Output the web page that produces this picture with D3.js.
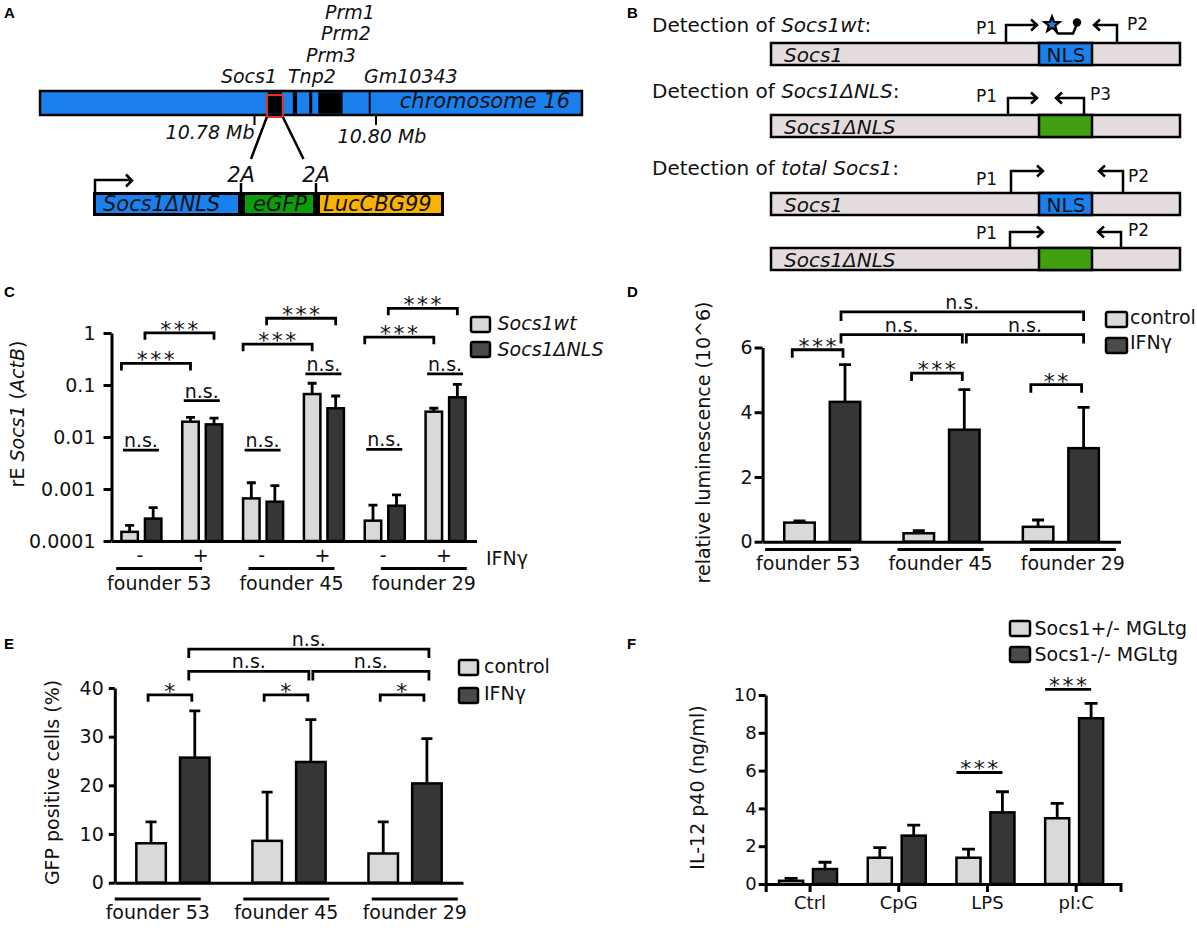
<!DOCTYPE html>
<meta charset="utf-8">
<style type="text/css">
body {
  margin: 0;
  background: #fff;
}
svg {
  font-family: "DejaVu Sans", Verdana, sans-serif;
}
text {
  fill: #111;
}
.axis path,
.axis line {
  stroke: #000;
  stroke-width: 3px;
}
.axis text {
  font-family: "DejaVu Sans", Verdana, sans-serif;
  font-size: 19px;
  fill: #111;
}
.bar {
  stroke: #000;
  stroke-width: 2.5px;
}
.line {
  stroke: #000;
  stroke-width: 2.8px;
  fill: none;
}
.lab {
  font-size: 19px;
}
.it {
  font-style: italic;
}
.star {
  font-size: 22px;
  letter-spacing: 2.5px;
}
.panel {
  font-family: "Liberation Sans", Arial, sans-serif;
  font-weight: bold;
  font-size: 15px;
  fill: #000;
}
</style>
<body>
<script src="https://cdn.jsdelivr.net/npm/d3@7"></script>
<script>
// ---------- data ----------
// A: chromosome 16 window (Mb) and the black gene blocks
var chrWindow = [10.7447, 10.8339];
var geneStart = [10.7822, 10.7863, 10.7890, 10.7905, 10.7988];
var geneEnd = [10.7845, 10.7870, 10.7895, 10.7945, 10.7991];
var mbTicks = [10.78, 10.80];
var geneNames = ["Socs1", "Tnp2", "Prm3", "Prm2", "Prm1", "Gm10343"];
var constructParts = ["Socs1ΔNLS", "eGFP", "LucCBG99"];
var constructSize = [142, 68, 121];

// C: rE Socs1 (ActB), six conditions (founder x IFNγ)
var cFounders = ["founder 53", "founder 45", "founder 29"];
var cIfn = ["-", "+", "-", "+", "-", "+"];
var cSeries = ["Socs1wt", "Socs1ΔNLS"];
var cWt = [0.00015, 0.0197, 0.00066, 0.067, 0.000246, 0.0307];
var cWtErr = [0.0002, 0.0239, 0.00132, 0.108, 0.00049, 0.0357];
var cDnls = [0.00027, 0.0175, 0.00057, 0.0357, 0.000477, 0.058];
var cDnlsErr = [0.00044, 0.023, 0.00116, 0.0614, 0.00077, 0.103];
var cTicks = [0.0001, 0.001, 0.01, 0.1, 1];
var cTickLabels = ["0.0001", "0.001", "0.01", "0.1", "1"];
var cNs = [0.0056, 0.05, 0.0056, 0.163, 0.0058, 0.163];
var cStars = [[0, 0, 1, 0.26], [0, 1, 1, 1.01], [2, 0, 3, 0.61], [2, 1, 3, 1.92], [4, 0, 5, 0.83], [4, 1, 5, 2.98]];

// D: relative luminescence (10^6)
var dFounders = ["founder 53", "founder 45", "founder 29"];
var dSeries = ["control", "IFNγ"];
var dControl = [0.59, 0.26, 0.46];
var dControlErr = [0.64, 0.34, 0.67];
var dIfn = [4.32, 3.46, 2.89];
var dIfnErr = [5.47, 4.70, 4.15];
var dTicks = [0, 2, 4, 6];
var dPairs = [[0, "***", 5.93], [1, "***", 5.21], [2, "**", 4.85]];
var dNs = [[0, 1, 6.40], [1, 2, 6.40], [0, 2, 7.10]];

// E: GFP positive cells (%)
var eFounders = ["founder 53", "founder 45", "founder 29"];
var eControl = [8.1, 8.6, 6.0];
var eControlErr = [12.5, 18.6, 12.5];
var eIfn = [25.7, 24.8, 20.4];
var eIfnErr = [35.3, 33.5, 29.6];
var eTicks = [0, 10, 20, 30, 40];
var ePairs = [[0, "*", 38.6], [1, "*", 38.6], [2, "*", 38.6]];
var eNs = [[0, 1, 43.4], [1, 2, 43.4], [0, 2, 48.0]];

// F: IL-12 p40 (ng/ml)
var fCats = ["Ctrl", "CpG", "LPS", "pI:C"];
var fSeries = ["Socs1+/- MGLtg", "Socs1-/- MGLtg"];
var fHet = [0.17, 1.39, 1.39, 3.48];
var fHetErr = [0.30, 1.92, 1.85, 4.27];
var fKo = [0.79, 2.56, 3.79, 8.77];
var fKoErr = [1.15, 3.12, 4.88, 9.56];
var fTicks = [0, 2, 4, 6, 8, 10];
var fSig = [[2, 5.9], [3, 10.3]];

// ---------- colours ----------
var BLUE = "#1a80ee", GREEN_A = "#0a9e0a", ORANGE = "#f8b200";
var PINK = "#e4dcdc", GREEN_B = "#40a010";
var LIGHT = "#d9d9d9", DARK = "#363636";

var svg = d3.select("body").append("svg")
  .attr("width", 1197)
  .attr("height", 930);
svg.append("rect").attr("width", 1197).attr("height", 930).attr("fill", "#fff");

function txt(g, x, y, s, cls, anchor, size) {
  return g.append("text")
    .attr("x", x).attr("y", y)
    .attr("class", cls || "lab")
    .attr("text-anchor", anchor || "start")
    .style("font-size", size ? size + "px" : null)
    .text(s);
}

// panel letters
[["A", 4, 18], ["B", 627, 18], ["C", 4, 297], ["D", 627, 297], ["E", 4, 649], ["F", 627, 649]]
  .forEach(function(p) { txt(svg, p[1], p[2], p[0], "panel"); });

// ---------- A ----------
var gA = svg.append("g");
var mb = d3.scaleLinear().domain(mbTicks).range([254.5, 376]);

gA.append("rect")
  .attr("x", mb(chrWindow[0])).attr("y", 91)
  .attr("width", mb(chrWindow[1]) - mb(chrWindow[0])).attr("height", 24)
  .attr("fill", BLUE).attr("stroke", "#000").attr("stroke-width", 2.5);

gA.selectAll(".gene").data(geneStart).join("rect")
  .attr("class", "gene")
  .attr("x", function(d) { return mb(d); })
  .attr("y", 92.3)
  .attr("width", function(d, i) { return Math.max(2, mb(geneEnd[i]) - mb(d)); })
  .attr("height", 21.4)
  .attr("fill", "#000");

txt(gA, 570, 108, "chromosome 16", "lab it", "end", 21);

// red box around Socs1 + zoom lines
gA.append("rect")
  .attr("x", mb(geneStart[0]) - 1).attr("y", 95)
  .attr("width", mb(geneEnd[0]) - mb(geneStart[0]) + 2).attr("height", 22)
  .attr("fill", "none").attr("stroke", "#e8302a").attr("stroke-width", 2);
gA.append("path").attr("class", "line")
  .attr("d", "M" + (mb(geneStart[0]) - 1) + ",117L251,159M" + (mb(geneEnd[0]) + 1) + ",117L303.5,159")
  .style("stroke-width", "2.5px");

// Mb ticks
gA.selectAll(".mbt").data(mbTicks).join("path")
  .attr("class", "line")
  .attr("d", function(d) { return "M" + mb(d) + ",115V125"; })
  .style("stroke-width", "2px");
txt(gA, mb(mbTicks[0]), 139, "10.78 Mb", "lab it", "end");
txt(gA, mb(mbTicks[1]) + 6, 143, "10.80 Mb", "lab it", "middle");

// gene labels
txt(gA, 277, 83, geneNames[0], "lab it", "end");
txt(gA, 288, 83, geneNames[1], "lab it");
txt(gA, 306, 62, geneNames[2], "lab it");
txt(gA, 321, 40, geneNames[3], "lab it");
txt(gA, 325, 19, geneNames[4], "lab it");
txt(gA, 364, 83, geneNames[5], "lab it");

// construct
var cx0 = 94, sep = 7;
var partFill = [BLUE, GREEN_A, ORANGE];
var partX = [];
var acc = cx0 + 2;
constructSize.forEach(function(s, i) { partX.push(acc); acc += s + sep; });
gA.append("rect").attr("x", cx0).attr("y", 193).attr("width", acc - sep + 2 - cx0).attr("height", 22)
  .attr("fill", "#000").attr("stroke", "#000").attr("stroke-width", 2);
gA.selectAll(".part").data(constructParts).join("rect")
  .attr("class", "part")
  .attr("x", function(d, i) { return partX[i]; })
  .attr("y", 195)
  .attr("width", function(d, i) { return constructSize[i]; })
  .attr("height", 18)
  .attr("fill", function(d, i) { return partFill[i]; });
gA.selectAll(".ptxt").data(constructParts).join("text")
  .attr("class", "lab it ptxt")
  .attr("x", function(d, i) { return partX[i] + [7, 8, 3][i]; })
  .attr("y", 210.5)
  .style("font-size", "21px")
  .text(function(d) { return d; });
[1, 2].forEach(function(i) {
  var sx = partX[i] - sep / 2 - 0.5;
  gA.append("path").attr("class", "line").attr("d", "M" + sx + ",183V193").style("stroke-width", "2.5px");
  txt(gA, sx, 182, "2A", "lab it", "middle", 21);
});
gA.append("path").attr("class", "line")
  .attr("d", "M95,193V180H131M126,174.5L132,180.5L126,186.5")
  .style("stroke-width", "2.5px");

// ---------- B ----------
var gB = svg.append("g");
var bRows = [
  { title: ["Socs1wt"], ty: 32, barY: 43, name: "Socs1", nls: true,
    primers: [[1006, 25, 1037, "P1", 997, 34], [1117, 25, 1094, "P2", 1127, 30]] },
  { title: ["Socs1ΔNLS"], ty: 98, barY: 115, name: "Socs1ΔNLS", nls: false,
    primers: [[1008, 98, 1037, "P1", 997, 102], [1084, 98, 1056, "P3", 1090, 100]] },
  { title: ["total Socs1"], ty: 175, barY: 193, name: "Socs1", nls: true,
    primers: [[1011, 171, 1043, "P1", 997, 185], [1123, 171, 1099, "P2", 1128, 182]] },
  { title: null, barY: 248, name: "Socs1ΔNLS", nls: false,
    primers: [[1010, 232, 1043, "P1", 997, 239], [1121, 232, 1098, "P2", 1128, 236]] }
];
bRows.forEach(function(r) {
  if (r.title) {
    var t = gB.append("text").attr("x", 652).attr("y", r.ty).style("font-size", "20px");
    t.append("tspan").text("Detection of ");
    t.append("tspan").style("font-style", "italic").text(r.title[0]);
    t.append("tspan").text(":");
  }
  gB.append("rect").attr("x", 771).attr("y", r.barY).attr("width", 409).attr("height", 22)
    .attr("fill", PINK).attr("stroke", "#000").attr("stroke-width", 2.5);
  gB.append("rect").attr("x", 1039).attr("y", r.barY).attr("width", 53).attr("height", 22)
    .attr("fill", r.nls ? BLUE : GREEN_B).attr("stroke", "#000").attr("stroke-width", 2.5);
  txt(gB, 784, r.barY + 19, r.name, "lab it", "start", 20);
  if (r.nls) txt(gB, 1066, r.barY + 19, "NLS", "lab", "middle", 20);
  r.primers.forEach(function(p) {
    var dir = p[2] > p[0] ? 1 : -1;
    gB.append("path").attr("class", "line").style("stroke-width", "2.5px")
      .attr("d", "M" + p[0] + "," + r.barY + "V" + p[1] + "H" + p[2] +
        "M" + (p[2] - 6 * dir) + "," + (p[1] - 5.5) + "L" + p[2] + "," + p[1] + "L" + (p[2] - 6 * dir) + "," + (p[1] + 5.5));
    txt(gB, p[4], p[5], p[3], "lab", dir > 0 ? "end" : "start", 17);
  });
});
// probe: fluorophore star + quencher
var star = d3.range(10).map(function(i) {
  var a = -Math.PI / 2 + i * Math.PI / 5, rr = i % 2 ? 3.4 : 8;
  return [1052 + rr * Math.cos(a), 24.5 + rr * Math.sin(a)];
});
gB.append("path").attr("class", "line").style("stroke-width", "2.5px")
  .attr("d", "M1055,30L1058,33.5H1073L1077,24");
gB.append("path").attr("d", "M" + star.join("L") + "Z")
  .attr("fill", BLUE).attr("stroke", "#000").attr("stroke-width", 2.2);
gB.append("circle").attr("cx", 1077).attr("cy", 22.5).attr("r", 4.2).attr("fill", "#000");

// ---------- shared bar panel ----------
function barPanel(o) {
  var g = svg.append("g");
  var x = d3.scaleBand().domain(d3.range(o.n)).range(o.xr);
  var xi = d3.scaleBand().domain(d3.range(o.series.length)).range(o.inner).paddingInner(o.pad);
  var base = o.y.range()[0];
  function left(i, s) { return x(i) + x.bandwidth() / 2 + xi(s); }
  function mid(i, s) { return left(i, s) + xi.bandwidth() / 2; }

  o.series.forEach(function(s, si) {
    g.append("g").selectAll("rect").data(s.vals).join("rect")
      .attr("class", "bar")
      .attr("fill", s.fill)
      .attr("x", function(d, i) { return left(i, si); })
      .attr("y", function(d) { return o.y(d); })
      .attr("width", xi.bandwidth())
      .attr("height", function(d) { return base - o.y(d); });
    g.append("g").selectAll("path").data(s.errs).join("path")
      .attr("class", "line")
      .attr("d", function(d, i) {
        var c = mid(i, si), t = o.y(d);
        return "M" + c + "," + o.y(s.vals[i]) + "V" + t + "M" + (c - o.cap) + "," + t + "H" + (c + o.cap);
      });
  });

  g.append("g").attr("class", "axis")
    .attr("transform", "translate(" + o.xr[0] + ",0)")
    .call(d3.axisLeft(o.y).tickValues(o.ticks).tickFormat(o.fmt)
      .tickSize(o.tick).tickPadding(o.tpad).tickSizeOuter(0));

  var xAxis = d3.axisBottom(x).tickSizeOuter(0);
  if (o.cats) xAxis.tickSize(8).tickPadding(4).tickFormat(function(i) { return o.cats[i]; });
  else xAxis.tickValues([]);
  g.append("g").attr("class", "axis")
    .attr("transform", "translate(0," + base + ")")
    .call(xAxis);

  var ylab = g.append("text")
    .attr("transform", "translate(" + o.ylab[0] + "," + o.ylab[1] + ") rotate(-90)")
    .attr("text-anchor", "middle")
    .attr("class", "lab");
  o.ylab[2].forEach(function(p) {
    ylab.append("tspan").style("font-style", p[1] ? "italic" : null).text(p[0]);
  });
  return { g: g, x: x, xi: xi, left: left, mid: mid };
}

function bracket(g, xa, xb, yy, drop, label) {
  g.append("path").attr("class", "line")
    .attr("d", "M" + xa + "," + (yy + drop) + "V" + yy + "H" + xb + "V" + (yy + drop));
  if (label.charAt(0) === "*") txt(g, (xa + xb) / 2 + 1, yy + 4, label, "star", "middle");
  else txt(g, (xa + xb) / 2, yy - 3, label, "lab", "middle");
}

function legend(g, x, ys, labels, fills, italic, w) {
  labels.forEach(function(l, i) {
    g.append("rect").attr("x", x).attr("y", ys[i]).attr("width", w).attr("height", 15)
      .attr("rx", 2).attr("fill", fills[i]).attr("stroke", "#000").attr("stroke-width", 2.5);
  });
}

function founders(g, band, y0, lines, labels) {
  labels.forEach(function(l, i) {
    var c = band(i) + band.bandwidth() / 2;
    g.append("path").attr("class", "line").attr("d", "M" + (c - 43) + "," + lines + "H" + (c + 43));
    txt(g, c, y0, l, "lab", "middle");
  });
}

// ---------- C ----------
var yC = d3.scaleLog().domain([1e-4, 1]).range([541, 333]);
var C = barPanel({
  n: 6, xr: [111.5, 476.5], inner: [-20.5, 19.5], pad: 0.3, y: yC, cap: 4.5,
  ticks: cTicks, fmt: function(d, i) { return cTickLabels[i]; }, tick: 8, tpad: 8,
  series: [{ vals: cWt, errs: cWtErr, fill: LIGHT }, { vals: cDnls, errs: cDnlsErr, fill: DARK }],
  ylab: [24, 414, [["rE ", 0], ["Socs1", 1], [" (", 0], ["ActB", 1], [")", 0]]]
});
cIfn.forEach(function(s, i) {
  txt(C.g, C.x(i) + C.x.bandwidth() / 2 - 2, 562, s, "lab", "middle");
  var c = C.x(i) + C.x.bandwidth() / 2;
  bracket(C.g, c - 19, c + 17, yC(cNs[i]), 0, "n.s.");
});
txt(C.g, 486, 565, "IFNγ");
cStars.forEach(function(s) {
  bracket(C.g, C.left(s[0], s[1]), C.mid(s[2], s[1]), yC(s[3]), 7, "***");
});
founders(C.g, d3.scaleBand().domain(d3.range(3)).range([93, 490]), 590, 568.5, cFounders);
legend(C.g, 471, [317, 342], cSeries, [LIGHT, "#4a4a4a"], true, 19);
cSeries.forEach(function(s, i) { txt(C.g, 497.5, [330, 356][i], s, "lab it"); });

// ---------- D ----------
var yD = d3.scaleLinear().domain([0, 6]).range([541.7, 347.5]);
var D = barPanel({
  n: 3, xr: [762.6, 1120.5], inner: [-38, 38], pad: 0.33, y: yD, cap: 6,
  ticks: dTicks, fmt: d3.format("d"), tick: 8, tpad: 2,
  series: [{ vals: dControl, errs: dControlErr, fill: LIGHT }, { vals: dIfn, errs: dIfnErr, fill: DARK }],
  ylab: [710, 442.5, [["relative luminescence (10^6)", 0]]]
});
dPairs.forEach(function(p) {
  bracket(D.g, D.left(p[0], 0) + 8, D.mid(p[0], 1) - 2, yD(p[2]), 8, p[1]);
});
dNs.forEach(function(p) {
  var a = D.mid(p[0], 1) + (p[0] === 1 ? 2 : -4), b = D.mid(p[1], 1) + (p[1] === 1 ? -2 : 0);
  bracket(D.g, a, b, yD(p[2]), 9, "n.s.");
});
founders(D.g, d3.scaleBand().domain(d3.range(3)).range([742, 1139]), 570, 549.5, dFounders);
legend(D.g, 1106, [312, 338], dSeries, [LIGHT, "#4a4a4a"], false, 21);
dSeries.forEach(function(s, i) { txt(D.g, 1130, [324, 349][i], s); });

// ---------- E ----------
var yE = d3.scaleLinear().domain([0, 40]).range([882.7, 688]);
var E = barPanel({
  n: 3, xr: [114.8, 463], inner: [-36.5, 36.7], pad: 0.325, y: yE, cap: 5.5,
  ticks: eTicks, fmt: d3.format("d"), tick: 6, tpad: 5,
  series: [{ vals: eControl, errs: eControlErr, fill: LIGHT }, { vals: eIfn, errs: eIfnErr, fill: DARK }],
  ylab: [59, 782.5, [["GFP positive cells (%)", 0]]]
});
ePairs.forEach(function(p) {
  bracket(E.g, E.mid(p[0], 0) - 3, E.mid(p[0], 1) - 3, yE(p[2]), 7, p[1]);
});
eNs.forEach(function(p) {
  var a = E.mid(p[0], 1) + (p[0] === 1 ? 2 : -6), b = E.mid(p[1], 1) + (p[1] === 1 ? -2 : 2);
  bracket(E.g, a, b, yE(p[2]), 9, "n.s.");
});
founders(E.g, d3.scaleBand().domain(d3.range(3)).range([93.5, 479]), 919, 899, eFounders);
legend(E.g, 459, [660, 688], dSeries, [LIGHT, "#4a4a4a"], false, 19);
dSeries.forEach(function(s, i) { txt(E.g, 484, [673, 700][i], s); });

// ---------- F ----------
var yF = d3.scaleLinear().domain([0, 10]).range([884, 695]);
var F = barPanel({
  n: 4, xr: [765.7, 1120.5], inner: [-31, 27], pad: 0.29, y: yF, cap: 6.5,
  ticks: fTicks, fmt: d3.format("d"), tick: 7, tpad: 2, cats: fCats,
  series: [{ vals: fHet, errs: fHetErr, fill: LIGHT }, { vals: fKo, errs: fKoErr, fill: DARK }],
  ylab: [704, 787.5, [["IL-12 p40 (ng/ml)", 0]]]
});
fSig.forEach(function(s) {
  bracket(F.g, F.left(s[0], 0), F.mid(s[0], 1), yF(s[1]), 0, "***");
});
legend(F.g, 1010, [621, 647], fSeries, [LIGHT, "#4a4a4a"], false, 20);
fSeries.forEach(function(s, i) { txt(F.g, 1034.5, [635, 661][i], s); });
F.g.selectAll(".axis text").style("font-size", "18px");
</script>
